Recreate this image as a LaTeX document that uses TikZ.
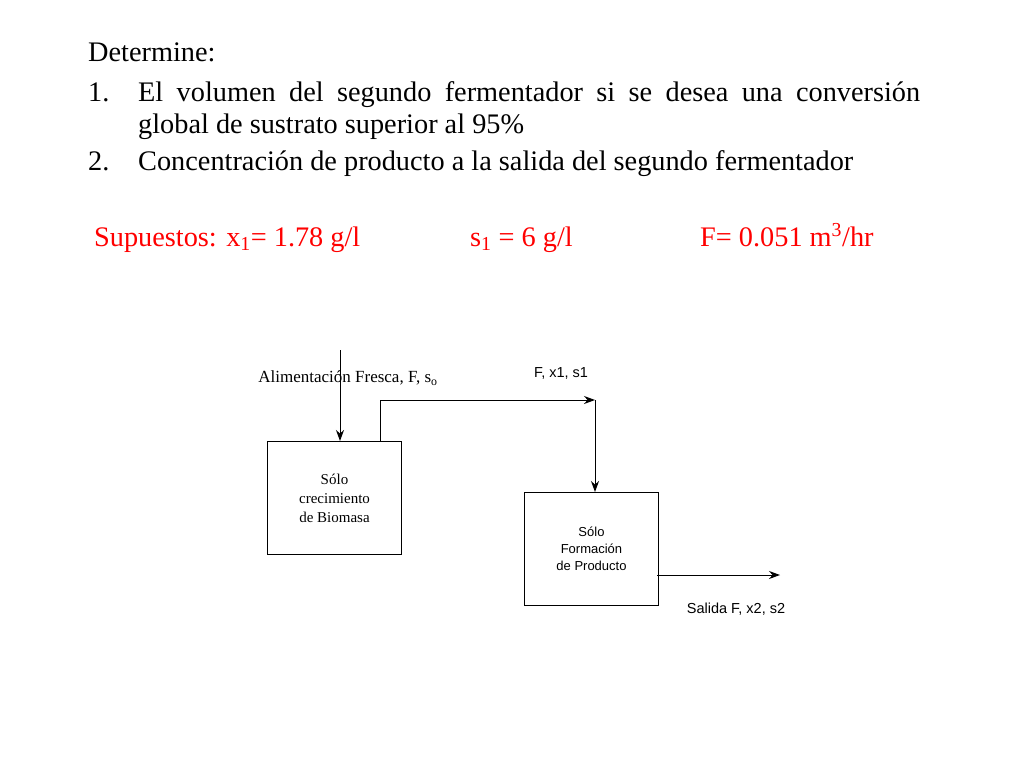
\documentclass[tikz,border=0pt]{standalone}
\usepackage{fontspec}
\setmainfont{Liberation Serif}
\newfontfamily\sansf{Liberation Sans}
\usetikzlibrary{arrows.meta}
\begin{document}
\begin{tikzpicture}[x=1pt,y=-1pt,
  box/.style={draw,line width=1pt,minimum width=134pt,minimum height=113pt,anchor=north west,inner sep=0},
  flow/.style={line width=1pt,-{Stealth[length=11pt,width=8pt]}},
  big/.style={font=\fontsize{28.3}{32}\selectfont,anchor=base west,inner sep=0}]
\useasboundingbox (0,0) rectangle (1024,768);
\node[big] (t0) at (88,61) {Determine:};
\node[big] (n1) at (88,101) {1.};
\node[big,text width=782pt,align=justify] (t1) at (138,101) {El volumen del segundo fermentador si se desea una conversión\linebreak global de sustrato superior al 95\%};
\node[big] (n2) at (88,170) {2.};
\node[big] (t2) at (138,170) {Concentración de producto a la salida del segundo fermentador};
\node[big,text=red] (s0) at (94,246) {Supuestos: x\textsubscript{1}= 1.78 g/l};
\node[big,text=red] (s1) at (470,246) {s\textsubscript{1} = 6 g/l};
\node[big,text=red] (s2) at (700,246) {F= 0.051 m\textsuperscript{3}/hr};
\node[box] (b1) at (267,441) {};
\node[box] (b2) at (524,492) {};
\node[align=center,font=\fontsize{15}{19}\selectfont] (l1) at (b1.center) {Sólo\\crecimiento\\de Biomasa};
\node[align=center,font=\sansf\fontsize{13}{17}\selectfont] (l2) at (b2.center) {Sólo\\Formación\\de Producto};
\coordinate (in) at (340,350);
\draw[flow] (in) -- (340,441);
\coordinate (o1) at (380,441);
\coordinate (c1) at (595,400);
\draw[flow] (o1) -- (380,400) -- (c1);
\draw[flow] (c1) -- (595,492);
\coordinate (out) at (780,575);
\draw[flow] (657,575) -- (out);
\node[font=\fontsize{17}{19}\selectfont,inner sep=1pt] (la) at (348,378) {Alimentación Fresca, F, s\textsubscript{o}};
\node[font=\sansf\fontsize{14.5}{16}\selectfont] (lb) at (561,373) {F, x1, s1};
\node[font=\sansf\fontsize{14.5}{16}\selectfont] (lc) at (736,609) {Salida F, x2, s2};
\end{tikzpicture}
\end{document}
